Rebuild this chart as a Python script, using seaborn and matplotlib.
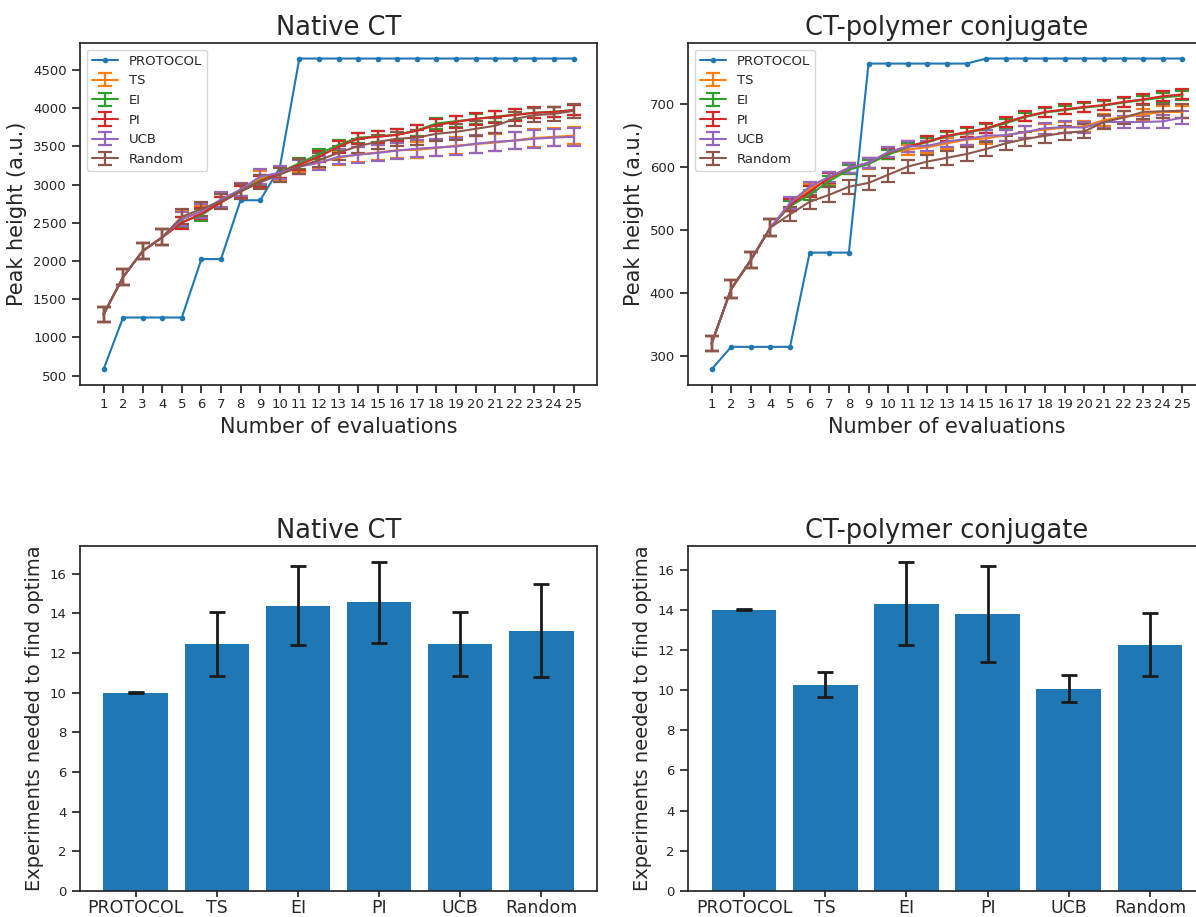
import matplotlib
matplotlib.use('Agg')
import matplotlib.pyplot as plt
import numpy as np
import pandas as pd
import seaborn as sns

evals = list(range(1, 26))
methods = ['TS', 'EI', 'PI', 'UCB', 'Random']
bar_labels = ['PROTOCOL', 'TS', 'EI', 'PI', 'UCB', 'Random']

# Native CT - peak height vs evaluations
native_protocol = [580, 1260, 1260, 1260, 1260, 2025, 2025, 2795, 2795, 3220,
                   4650, 4650, 4650, 4650, 4650, 4650, 4650, 4650, 4650, 4650,
                   4650, 4650, 4650, 4650, 4650]
native_ts = [1300, 1790, 2130, 2310, 2560, 2640, 2790, 2930, 3080, 3150,
             3245, 3290, 3350, 3395, 3420, 3450, 3455, 3480, 3510, 3530,
             3550, 3580, 3610, 3625, 3640]
native_ei = [1300, 1790, 2130, 2310, 2510, 2600, 2770, 2920, 3050, 3160,
             3280, 3400, 3520, 3615, 3630, 3655, 3710, 3800, 3830, 3860,
             3890, 3915, 3940, 3955, 3975]
native_pi = [1300, 1790, 2130, 2310, 2500, 2620, 2765, 2910, 3040, 3155,
             3260, 3365, 3495, 3600, 3625, 3650, 3705, 3780, 3820, 3860,
             3885, 3910, 3940, 3950, 3975]
native_ucb = [1300, 1790, 2130, 2310, 2545, 2650, 2805, 2935, 3105, 3155,
              3235, 3285, 3365, 3390, 3415, 3445, 3470, 3485, 3500, 3535,
              3560, 3575, 3600, 3615, 3625]
native_rand = [1300, 1790, 2130, 2310, 2580, 2680, 2780, 2910, 3030, 3130,
               3235, 3320, 3415, 3505, 3560, 3600, 3615, 3665, 3690, 3730,
               3770, 3860, 3910, 3925, 3965]
native_ts_err = [95, 105, 100, 105, 90, 85, 90, 90, 95, 85,
                 85, 90, 95, 95, 100, 100, 105, 105, 110, 110,
                 110, 110, 115, 115, 115]
native_ei_err = [95, 105, 100, 105, 70, 75, 70, 70, 75, 70,
                 70, 70, 65, 65, 70, 70, 70, 70, 70, 70,
                 70, 70, 65, 65, 65]
native_pi_err = [95, 105, 100, 105, 75, 75, 75, 70, 75, 70,
                 75, 75, 75, 75, 75, 75, 80, 80, 80, 80,
                 80, 75, 70, 70, 70]
native_ucb_err = [95, 105, 100, 105, 90, 90, 95, 90, 100, 85,
                  90, 95, 100, 105, 105, 105, 110, 110, 115, 115,
                  115, 115, 115, 115, 115]
native_rand_err = [95, 105, 100, 105, 100, 95, 100, 95, 90, 90,
                   95, 95, 90, 90, 90, 90, 95, 100, 100, 100,
                   100, 95, 90, 90, 90]

# CT-polymer conjugate - peak height vs evaluations
conj_protocol = [278, 314, 314, 314, 314, 464, 464, 464, 765, 765,
                 765, 765, 765, 765, 773, 773, 773, 773, 773, 773,
                 773, 773, 773, 773, 773]
conj_ts = [319, 406, 452, 504, 541, 565, 582, 598, 606, 622,
           628, 632, 638, 644, 646, 651, 656, 660, 663, 665,
           675, 680, 684, 688, 688]
conj_ei = [319, 406, 452, 504, 538, 556, 578, 596, 605, 620,
           632, 640, 649, 655, 661, 670, 680, 687, 691, 695,
           698, 703, 707, 711, 714]
conj_pi = [319, 406, 452, 504, 540, 561, 583, 599, 607, 623,
           633, 641, 650, 656, 662, 672, 681, 688, 692, 696,
           699, 704, 708, 713, 716]
conj_ucb = [319, 406, 452, 504, 543, 569, 585, 599, 607, 624,
            633, 634, 641, 645, 650, 651, 656, 662, 664, 663,
            672, 672, 672, 673, 679]
conj_rand = [319, 406, 452, 504, 525, 545, 556, 569, 575, 588,
             601, 609, 615, 621, 629, 638, 645, 650, 655, 657,
             672, 679, 688, 689, 690]
conj_ts_err = [12, 14, 13, 13, 10, 9, 10, 9, 9, 9,
               8, 9, 9, 9, 9, 9, 9, 9, 9, 9,
               9, 9, 9, 9, 9]
conj_ei_err = [12, 14, 13, 13, 8, 8, 8, 7, 7, 7,
               7, 7, 7, 7, 7, 7, 7, 7, 7, 7,
               7, 7, 7, 7, 7]
conj_pi_err = [12, 14, 13, 13, 9, 9, 8, 8, 8, 8,
               8, 8, 8, 8, 8, 8, 8, 8, 8, 8,
               8, 8, 8, 8, 8]
conj_ucb_err = [12, 14, 13, 13, 9, 8, 8, 8, 8, 8,
                8, 8, 9, 9, 9, 9, 9, 9, 9, 9,
                10, 10, 10, 10, 10]
conj_rand_err = [12, 14, 13, 13, 11, 11, 12, 11, 11, 11,
                 11, 11, 11, 11, 11, 11, 11, 11, 11, 11,
                 11, 11, 11, 11, 11]

# experiments needed to find optima
native_bar = [10.0, 12.47, 14.39, 14.55, 12.47, 13.13]
native_bar_err = [0.02, 1.62, 1.98, 2.02, 1.62, 2.33]
conj_bar = [14.0, 10.27, 14.3, 13.8, 10.07, 12.26]
conj_bar_err = [0.02, 0.62, 2.06, 2.4, 0.67, 1.56]

sns.set_theme(style='ticks', palette='tab10')
plt.rcParams['font.family'] = ['DejaVu Sans']
colors = sns.color_palette('tab10')

W, H = 1196, 917
fig = plt.figure(figsize=(W / 100, H / 100), dpi=100)


def box(l, t, r, b):
    return [l / W, 1 - b / H, (r - l) / W, (b - t) / H]


ax1 = fig.add_axes(box(80, 43, 597, 385))
ax2 = fig.add_axes(box(688, 43, 1206, 385))
ax3 = fig.add_axes(box(80, 546, 597, 891))
ax4 = fig.add_axes(box(688, 546, 1206, 891))


def curves(ax, protocol, series, errs, title):
    sns.lineplot(x=evals, y=protocol, ax=ax, color=colors[0], marker='o',
                 markersize=4, markeredgewidth=0, linewidth=1.5, label='PROTOCOL')
    for i, (name, ys, es) in enumerate(zip(methods, series, errs)):
        ax.errorbar(evals, ys, yerr=es, color=colors[i + 1], capsize=5,
                    capthick=1.6, elinewidth=1.6, linewidth=1.5, label=name)
    ax.set_xticks(evals)
    ax.tick_params(labelsize=9.5)
    ax.set_title(title, fontsize=18.5)
    ax.set_xlabel('Number of evaluations', fontsize=15)
    ax.set_ylabel('Peak height (a.u.)', fontsize=15)
    ax.legend(loc='upper left', fontsize=9.5)
    for s in ax.spines.values():
        s.set_visible(True)


curves(ax1, native_protocol,
       [native_ts, native_ei, native_pi, native_ucb, native_rand],
       [native_ts_err, native_ei_err, native_pi_err, native_ucb_err, native_rand_err],
       'Native CT')
ax1.set_yticks(range(500, 4501, 500))

curves(ax2, conj_protocol,
       [conj_ts, conj_ei, conj_pi, conj_ucb, conj_rand],
       [conj_ts_err, conj_ei_err, conj_pi_err, conj_ucb_err, conj_rand_err],
       'CT-polymer conjugate')


def bars(ax, vals, errs, title):
    df = pd.DataFrame({'method': bar_labels, 'n': vals})
    sns.barplot(data=df, x='method', y='n', ax=ax, color=colors[0],
                saturation=1, width=0.8, errorbar=None, linewidth=0)
    ax.errorbar(range(len(vals)), vals, yerr=errs, fmt='none', ecolor='#1a1a1a',
                capsize=6, capthick=2, elinewidth=2)
    ax.set_xlim(-0.69, len(vals) - 0.31)
    ax.set_ylim(0, (max(np.array(vals) + np.array(errs))) * 1.05)
    ax.set_yticks(range(0, 17, 2))
    ax.tick_params(axis='x', labelsize=12.5, pad=1.5, length=4)
    ax.tick_params(axis='y', labelsize=9.5)
    ax.set_xlabel('')
    ax.set_ylabel('Experiments needed to find optima', fontsize=14)
    ax.set_title(title, fontsize=18.5)
    for s in ax.spines.values():
        s.set_visible(True)


bars(ax3, native_bar, native_bar_err, 'Native CT')
bars(ax4, conj_bar, conj_bar_err, 'CT-polymer conjugate')

fig.savefig('out.png', dpi=100)
